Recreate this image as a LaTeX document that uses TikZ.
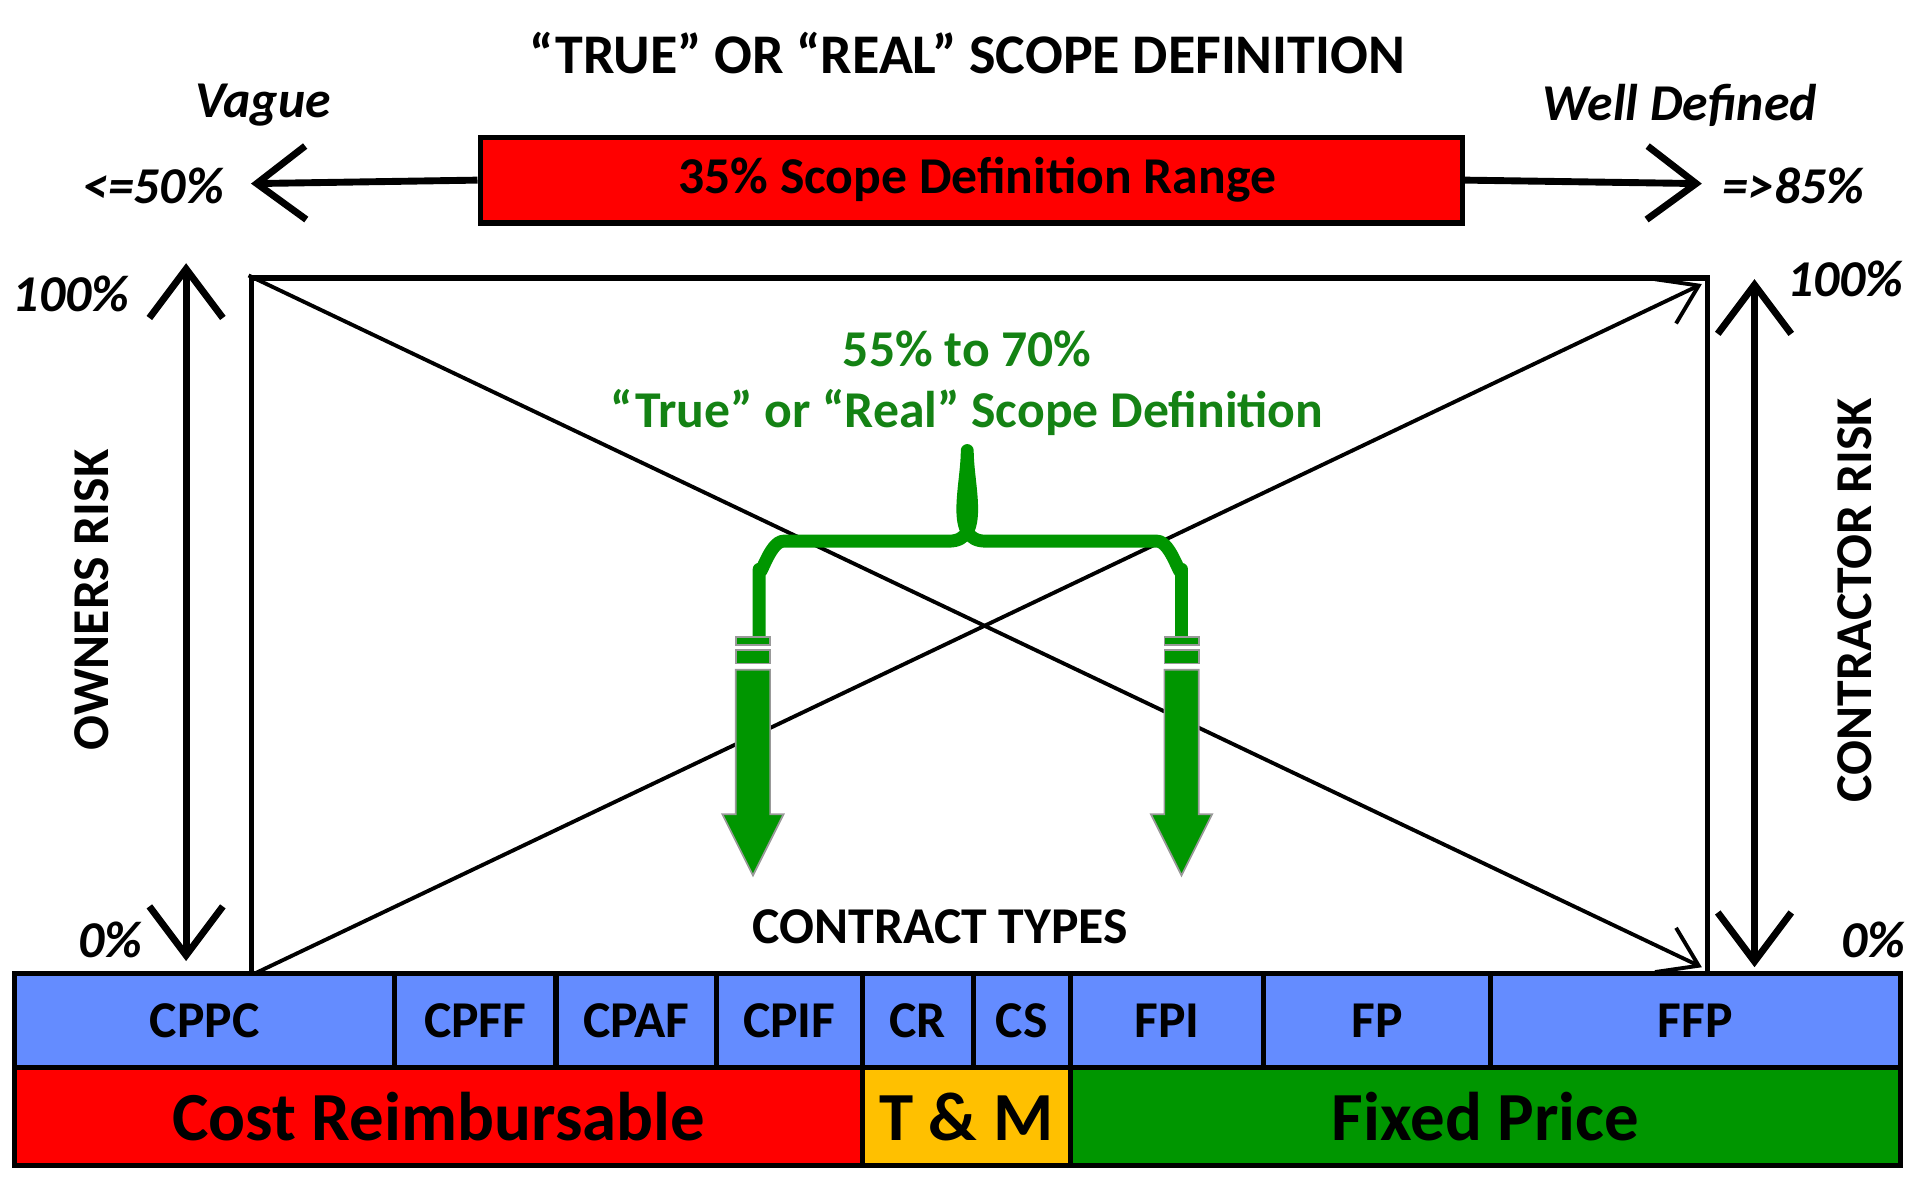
\documentclass[tikz,border=0pt]{standalone}
\usepackage{fontspec}
\setmainfont{Carlito}
\usetikzlibrary{positioning,arrows.meta}
\definecolor{cblue}{RGB}{100,140,255}
\definecolor{cyellow}{RGB}{255,192,0}
\definecolor{cgreen}{RGB}{0,150,0}
\definecolor{tgreen}{RGB}{20,130,20}
\begin{document}
\begin{tikzpicture}[x=0.01cm,y=-0.01cm,font=\bfseries,
	lbl/.style={font=\bfseries\fontsize{12}{14}\selectfont},
	pct/.style={font=\bfseries\itshape\fontsize{12}{14}\selectfont},
	cell/.style={draw=black,line width=1.2pt,anchor=north west,inner sep=0pt,font=\bfseries\fontsize{12}{14}\selectfont},
	cat/.style={cell,font=\bfseries\fontsize{16}{18}\selectfont},
	arr/.style={line width=1.6pt,-{Straight Barb[length=4mm,width=6mm,line width=1.6pt]}},
	darr/.style={line width=1.6pt,{Straight Barb[length=4mm,width=6mm,line width=1.6pt]}-{Straight Barb[length=4mm,width=6mm,line width=1.6pt]}},
	diag/.style={line width=0.9pt,-{Straight Barb[length=3mm,width=4mm]}}]
	\useasboundingbox (0,0) rectangle (1560,962);
	% header
	\node[lbl,font=\bfseries\fontsize{13}{15}\selectfont] (title) at (790,43) {“TRUE” OR “REAL” SCOPE DEFINITION};
	\node[pct] (vague) at (215,86) {Vague};
	\node[pct] (well) at (1372,86) {Well Defined};
	\node[pct] (low) at (125,152) {<=50\%};
	\node[pct] (high) at (1465,152) {=>85\%};
	\node[cell,fill=red,minimum width=8.02cm,minimum height=0.70cm] (range) at (390,110) {~35\% Scope Definition Range};
	\coordinate (lowtip) at (205,150);
	\coordinate (hightip) at (1390,150);
	\draw[arr] (range.west) -- (lowtip);
	\draw[arr] (range.east) -- (hightip);
	% main frame
	\node[draw,line width=1.2pt,anchor=north west,minimum width=11.89cm,minimum height=5.68cm,inner sep=0pt] (frame) at (203,225) {};
	\coordinate (brtip) at (1390,790);
	\coordinate (trtip) at (1390,232);
	\draw[diag] (frame.north west) -- (brtip);
	\draw[diag] (frame.south west) -- (trtip);
	% risk axes
	\coordinate (ltop) at (152,215); \coordinate (lbot) at (152,785);
	\coordinate (rtop) at (1433,228); \coordinate (rbot) at (1433,790);
	\draw[darr] (ltop) -- (lbot);
	\draw[darr] (rtop) -- (rbot);
	\node[pct] (l100) at (58,240) {100\%};
	\node[pct] (l0) at (90,768) {0\%};
	\node[pct] (r100) at (1507,228) {100\%};
	\node[pct] (r0) at (1530,768) {0\%};
	\node[lbl,rotate=90] (owners) at (75,490) {OWNERS RISK};
	\node[lbl,rotate=90] (contractor) at (1515,490) {CONTRACTOR RISK};
	% green range
	\node[lbl,text=tgreen] (g1) at (790,285) {55\% to 70\%};
	\node[lbl,text=tgreen] (g2) at (790,337) {“True” or “Real” Scope Definition};
	\draw[cgreen,line width=3pt,line join=round] (620,520) -- (620,465) to[out=-90,in=180] (640,442) -- (775,442)
		to[out=0,in=-90] (790,368) to[out=-90,in=180] (805,442) -- (945,442) to[out=0,in=-90] (965,465) -- (965,520);
	\foreach \x in {615,965}{
		\draw[fill=cgreen,draw=black!40,line width=0.4pt] (\x-14,520) rectangle (\x+14,527);
		\draw[fill=cgreen,draw=black!40,line width=0.4pt] (\x-14,531) rectangle (\x+14,542);
		\draw[fill=cgreen,draw=black!40,line width=0.4pt] (\x-14,547) -- (\x+14,547) -- (\x+14,665) -- (\x+25,665)
			-- (\x,715) -- (\x-25,665) -- (\x-14,665) -- cycle;
	}
	\node[lbl] (types) at (768,757) {CONTRACT TYPES};
	% contract types row
	\foreach \a/\b/\t in {10/320/CPPC,320/452/CPFF,452/583/CPAF,583/702/CPIF,702/793/CR,793/872/CS,872/1030/FPI,1030/1215/FP/EPA,1215/1550/FFP}{
		\node[cell,fill=cblue,minimum width=(\b-\a)*0.01cm,minimum height=0.77cm] (\t) at (\a,793) {\t};
	}
	\node[cat,fill=red,minimum width=6.92cm,minimum height=0.80cm] (cost) at (10,870) {Cost Reimbursable};
	\node[cat,fill=cyellow,minimum width=1.70cm,minimum height=0.80cm] (tm) at (702,870) {T \& M};
	\node[cat,fill=cgreen,minimum width=6.78cm,minimum height=0.80cm] (fixed) at (872,870) {Fixed Price};
\end{tikzpicture}
\end{document}
